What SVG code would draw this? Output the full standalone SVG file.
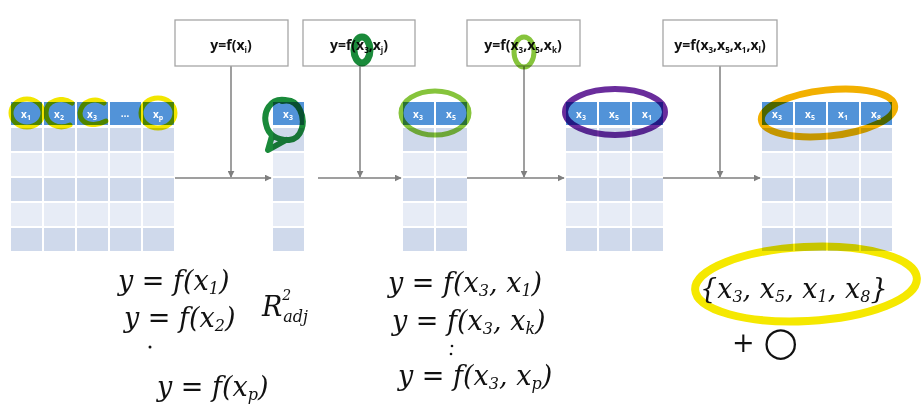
<svg xmlns="http://www.w3.org/2000/svg" width="922" height="411" viewBox="0 0 922 411">
<defs>
<style>
.hd{fill:#5293d8}
.dk{fill:#cfd9eb}
.lt{fill:#e7ecf6}
.box{fill:#fff;stroke:#a6a6a6;stroke-width:1.3}
.bt{font-family:"Open Sans","Liberation Sans",sans-serif;font-weight:bold;font-size:14px;fill:#111;text-anchor:middle}
.ht{font-family:"Open Sans","Liberation Sans",sans-serif;font-weight:bold;font-size:10px;fill:#fff;text-anchor:middle}
.con{stroke:#7f7f7f;stroke-width:1.5;fill:none}
.hw{font-family:"DejaVu Serif","Liberation Serif",serif;font-style:italic;font-size:27px;fill:#111}
.hl{fill:none;stroke-linecap:round;stroke-linejoin:round;mix-blend-mode:multiply}
</style>
<marker id="ah" viewBox="0 0 10 10" refX="9" refY="5" markerWidth="7" markerHeight="7" markerUnits="userSpaceOnUse" orient="auto">
<path d="M0,0 L10,5 L0,10 z" fill="#7f7f7f"/>
</marker>
</defs>
<rect width="922" height="411" fill="#fff"/>

<g id="connectors">
<path class="con" d="M175,178 H271" marker-end="url(#ah)"/>
<path class="con" d="M318,178 H401" marker-end="url(#ah)"/>
<path class="con" d="M467,178 H564" marker-end="url(#ah)"/>
<path class="con" d="M663,178 H760" marker-end="url(#ah)"/>
<path class="con" d="M231,66 V177" marker-end="url(#ah)"/>
<path class="con" d="M360,66 V177" marker-end="url(#ah)"/>
<path class="con" d="M524,66 V177" marker-end="url(#ah)"/>
<path class="con" d="M720,66 V177" marker-end="url(#ah)"/>
</g>

<g id="box1"><rect class="box" x="175" y="20" width="113" height="46"/>
<text class="bt" x="231" y="50">y=f(x<tspan font-size="8" dy="3">i</tspan><tspan dy="-3">)</tspan></text></g>
<g id="box2"><rect class="box" x="303" y="20" width="112" height="46"/>
<text class="bt" x="359" y="50">y=f(x<tspan font-size="8" dy="3">3</tspan><tspan dy="-3">,x</tspan><tspan font-size="8" dy="3">j</tspan><tspan dy="-3">)</tspan></text></g>
<g id="box3"><rect class="box" x="467" y="20" width="113" height="46"/>
<text class="bt" x="523" y="50">y=f(x<tspan font-size="8" dy="3">3</tspan><tspan dy="-3">,x</tspan><tspan font-size="8" dy="3">5</tspan><tspan dy="-3">,x</tspan><tspan font-size="8" dy="3">k</tspan><tspan dy="-3">)</tspan></text></g>
<g id="box4"><rect class="box" x="663" y="20" width="114" height="46"/>
<text class="bt" x="720" y="50">y=f(x<tspan font-size="8" dy="3">3</tspan><tspan dy="-3">,x</tspan><tspan font-size="8" dy="3">5</tspan><tspan dy="-3">,x</tspan><tspan font-size="8" dy="3">1</tspan><tspan dy="-3">,x</tspan><tspan font-size="8" dy="3">l</tspan><tspan dy="-3">)</tspan></text></g>

<g id="table1">
<rect class="hd" x="11" y="102" width="31" height="23"/><rect class="hd" x="44" y="102" width="31" height="23"/><rect class="hd" x="77" y="102" width="31" height="23"/><rect class="hd" x="110" y="102" width="31" height="23"/><rect class="hd" x="143" y="102" width="31" height="23"/>
<g class="dk"><rect x="11" y="128" width="163" height="23"/><rect x="11" y="178" width="163" height="23"/><rect x="11" y="228" width="163" height="23"/></g>
<g class="lt"><rect x="11" y="153" width="163" height="23"/><rect x="11" y="203" width="163" height="23"/></g>
<g fill="#fff"><rect x="42" y="128" width="2" height="123"/><rect x="75" y="128" width="2" height="123"/><rect x="108" y="128" width="2" height="123"/><rect x="141" y="128" width="2" height="123"/></g>
<text class="ht" x="26" y="118">x<tspan font-size="7" dy="2">1</tspan></text>
<text class="ht" x="59" y="118">x<tspan font-size="7" dy="2">2</tspan></text>
<text class="ht" x="92" y="118">x<tspan font-size="7" dy="2">3</tspan></text>
<text class="ht" x="125" y="117">…</text>
<text class="ht" x="158" y="118">x<tspan font-size="7" dy="2">p</tspan></text>
</g>

<g id="table2">
<rect class="hd" x="273" y="102" width="31" height="23"/>
<rect class="dk" x="273" y="128" width="31" height="23"/><rect class="lt" x="273" y="153" width="31" height="23"/><rect class="dk" x="273" y="178" width="31" height="23"/><rect class="lt" x="273" y="203" width="31" height="23"/><rect class="dk" x="273" y="228" width="31" height="23"/>
<text class="ht" x="288" y="118">x<tspan font-size="7" dy="2">3</tspan></text>
</g>

<g id="table3">
<rect class="hd" x="403" y="102" width="31" height="23"/><rect class="hd" x="436" y="102" width="31" height="23"/>
<g class="dk"><rect x="403" y="128" width="64" height="23"/><rect x="403" y="178" width="64" height="23"/><rect x="403" y="228" width="64" height="23"/></g>
<g class="lt"><rect x="403" y="153" width="64" height="23"/><rect x="403" y="203" width="64" height="23"/></g>
<rect fill="#fff" x="434" y="128" width="2" height="123"/>
<text class="ht" x="418" y="118">x<tspan font-size="7" dy="2">3</tspan></text>
<text class="ht" x="451" y="118">x<tspan font-size="7" dy="2">5</tspan></text>
</g>

<g id="table4">
<rect class="hd" x="566" y="102" width="31" height="23"/><rect class="hd" x="599" y="102" width="31" height="23"/><rect class="hd" x="632" y="102" width="31" height="23"/>
<g class="dk"><rect x="566" y="128" width="97" height="23"/><rect x="566" y="178" width="97" height="23"/><rect x="566" y="228" width="97" height="23"/></g>
<g class="lt"><rect x="566" y="153" width="97" height="23"/><rect x="566" y="203" width="97" height="23"/></g>
<g fill="#fff"><rect x="597" y="128" width="2" height="123"/><rect x="630" y="128" width="2" height="123"/></g>
<text class="ht" x="581" y="118">x<tspan font-size="7" dy="2">3</tspan></text>
<text class="ht" x="614" y="118">x<tspan font-size="7" dy="2">5</tspan></text>
<text class="ht" x="647" y="118">x<tspan font-size="7" dy="2">1</tspan></text>
</g>

<g id="table5">
<rect class="hd" x="762" y="102" width="31" height="23"/><rect class="hd" x="795" y="102" width="31" height="23"/><rect class="hd" x="828" y="102" width="31" height="23"/><rect class="hd" x="861" y="102" width="31" height="23"/>
<g class="dk"><rect x="762" y="128" width="130" height="23"/><rect x="762" y="178" width="130" height="23"/><rect x="762" y="228" width="130" height="23"/></g>
<g class="lt"><rect x="762" y="153" width="130" height="23"/><rect x="762" y="203" width="130" height="23"/></g>
<g fill="#fff"><rect x="793" y="128" width="2" height="123"/><rect x="826" y="128" width="2" height="123"/><rect x="859" y="128" width="2" height="123"/></g>
<text class="ht" x="777" y="118">x<tspan font-size="7" dy="2">3</tspan></text>
<text class="ht" x="810" y="118">x<tspan font-size="7" dy="2">5</tspan></text>
<text class="ht" x="843" y="118">x<tspan font-size="7" dy="2">1</tspan></text>
<text class="ht" x="876" y="118">x<tspan font-size="7" dy="2">8</tspan></text>
</g>

<g id="annotations">
<ellipse class="hl" cx="27" cy="113" rx="16" ry="14" stroke="#f2e600" stroke-width="5"/>
<path class="hl" d="M72,103 C62,96 46,100 46,113 C46,124 58,130 70,125" stroke="#f2e600" stroke-width="5"/>
<path class="hl" d="M104,103 C96,97 82,100 80,113 C80,124 93,128 106,121" stroke="#f2e600" stroke-width="5"/>
<ellipse class="hl" cx="158" cy="113" rx="17" ry="15" stroke="#f2e600" stroke-width="5"/>
<path class="hl" d="M285,100 C270,98 263,112 266,124 C268,134 275,140 289,140 C302,139 306,122 300,110 C296,102 290,99 282,101 M272,136 L268,150 L286,140" stroke="#1a8a3a" stroke-width="6"/>
<ellipse class="hl" cx="362" cy="50" rx="8" ry="13" stroke="#1a8a3a" stroke-width="7"/>
<ellipse class="hl" cx="435" cy="113" rx="34" ry="22" stroke="#86c43c" stroke-width="5"/>
<ellipse class="hl" cx="524" cy="52" rx="10" ry="15" stroke="#86c43c" stroke-width="5"/>
<ellipse class="hl" cx="615" cy="112" rx="50" ry="23" stroke="#6a2d9c" stroke-width="6"/>
<ellipse class="hl" cx="828" cy="113" rx="67" ry="23" transform="rotate(-6 828 113)" stroke="#f2b000" stroke-width="7"/>
<ellipse class="hl" cx="806" cy="284" rx="111" ry="37" transform="rotate(-3 806 284)" stroke="#f5e800" stroke-width="8"/>
</g>

<g id="handwriting">
<text class="hw" x="118" y="290">y = f(x<tspan font-size="16" dy="4">1</tspan><tspan dy="-4">)</tspan></text>
<text class="hw" x="124" y="327">y = f(x<tspan font-size="16" dy="4">2</tspan><tspan dy="-4">)</tspan></text>
<text class="hw" x="262" y="316">R<tspan font-size="14" dy="-16">2</tspan><tspan font-size="16" dx="-8" dy="22">adj</tspan></text>
<circle cx="150" cy="347" r="1.5" fill="#111"/>
<text class="hw" x="157" y="396">y = f(x<tspan font-size="16" dy="4">p</tspan><tspan dy="-4">)</tspan></text>
<text class="hw" x="388" y="292">y = f(x<tspan font-size="16" dy="4">3</tspan><tspan dy="-4">, x</tspan><tspan font-size="16" dy="4">1</tspan><tspan dy="-4">)</tspan></text>
<text class="hw" x="392" y="330">y = f(x<tspan font-size="16" dy="4">3</tspan><tspan dy="-4">, x</tspan><tspan font-size="16" dy="4">k</tspan><tspan dy="-4">)</tspan></text>
<circle cx="452" cy="346" r="1.3" fill="#111"/><circle cx="451" cy="354" r="1.3" fill="#111"/>
<text class="hw" x="398" y="385">y = f(x<tspan font-size="16" dy="4">3</tspan><tspan dy="-4">, x</tspan><tspan font-size="16" dy="4">p</tspan><tspan dy="-4">)</tspan></text>
<text class="hw" x="700" y="298">{x<tspan font-size="16" dy="4">3</tspan><tspan dy="-4">, x</tspan><tspan font-size="16" dy="4">5</tspan><tspan dy="-4">, x</tspan><tspan font-size="16" dy="4">1</tspan><tspan dy="-4">, x</tspan><tspan font-size="16" dy="4">8</tspan><tspan dy="-4">}</tspan></text>
<text class="hw" x="732" y="352">+ <tspan font-size="40" dy="3">○</tspan></text>
</g>
</svg>
